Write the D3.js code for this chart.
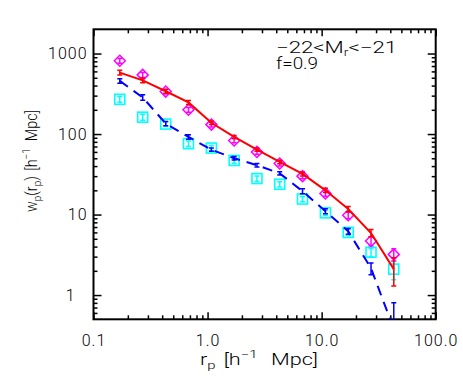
<!DOCTYPE html>
<html>
<head>
<meta charset="utf-8">
<script src="https://cdn.jsdelivr.net/npm/d3@7"></script>
<style>
body { margin: 0; background: #fff; }
text { font-family: Roboto, "Liberation Sans", Arial, sans-serif; font-weight: 300; fill: #000; }
</style>
</head>
<body>
<div id="chart"></div>
<script>
// projected separations (h^-1 Mpc)
var rp = [0.17, 0.27, 0.43, 0.68, 1.08, 1.71, 2.71, 4.29, 6.8, 10.8, 17.1, 27.1, 42.9];
// magenta diamonds
var wpDiamond = [815, 543, 337, 200, 131, 83, 60, 43, 30, 18.3, 9.8, 4.7, 3.2];
var wpDiamondErr = [55, 38, 22, 14, 9, 5, 4, 3, 2.2, 1.4, 0.9, 0.6, 0.55];
// cyan squares
var wpSquare = [270, 162, 133, 76, 67, 47, 28, 23.8, 15.6, 10.5, 6.0, 3.4, 2.1];
var wpSquareErr = [22, 14, 9, 6, 5, 3.5, 2.2, 1.8, 1.2, 0.8, 0.5, 0.4, 0.55];
// red solid line
var wpRed = [580, 465, 340, 247, 138, 92, 64, 45, 32, 20, 11.7, 5.9, 2.1];
var wpRedErr = [40, 30, 18, 14, 7, 4, 3, 2.2, 1.8, 1.2, 0.9, 0.6, 0.8];
// blue dashed line
var wpBlue = [457, 285, 135, 92, 64, 50, 41, 32.5, 19.5, 11, 6.2, 2.15, 0.38];
var wpBlueErr = [30, 22, 8, 6, 3, 2.5, 2, 1.5, 1.4, 0.8, 0.5, 0.36, 0.42];

var xTicks = [0.1, 1, 10, 100];
var yTicks = [1, 10, 100, 1000];

var Margin = {top: 29.3, right: 27.3, bottom: 60.7, left: 93.5},
    Width = 463 - Margin.left - Margin.right,
    Height = 380 - Margin.top - Margin.bottom;

var svg = d3.select("#chart").append("svg")
    .attr("width", 463).attr("height", 380);
var g = svg.append("g")
    .attr("transform", "translate(" + Margin.left + "," + Margin.top + ")");

var xScale = d3.scaleLog().domain([0.1, 100]).range([0, Width]);
var yScale = d3.scaleLog().domain([0.5, 2000]).range([Height, 0]);

// minor ticks: 2..9 of every decade inside the domain
function minors(scale) {
  var d = scale.domain(), out = [];
  for (var e = -2; e <= 4; e++) {
    for (var k = 2; k <= 9; k++) {
      var v = k * Math.pow(10, e);
      if (v > d[0] && v < d[1]) out.push(v);
    }
  }
  return out;
}

g.append("defs").append("clipPath").attr("id", "plotclip")
  .append("rect").attr("width", Width).attr("height", Height);

function axisStyle(sel) {
  sel.select(".domain").remove();
  sel.selectAll("line").attr("stroke", "#000").attr("stroke-width", 1.5);
  sel.selectAll("text").style("font-size", "16px").style("letter-spacing", "1px")
    .attr("font-family", null);
}

// bottom axis
g.append("g").attr("transform", "translate(0," + Height + ")")
  .call(d3.axisBottom(xScale).tickValues(xTicks).tickSizeInner(-7).tickSizeOuter(0)
    .tickPadding(15).tickFormat(d3.format(".1f")))
  .call(axisStyle);
g.append("g").attr("transform", "translate(0," + Height + ")")
  .call(d3.axisBottom(xScale).tickValues(minors(xScale)).tickSizeInner(-4).tickSizeOuter(0).tickFormat(""))
  .call(axisStyle);
// top axis
g.append("g")
  .call(d3.axisTop(xScale).tickValues(xTicks).tickSizeInner(-7).tickSizeOuter(0).tickFormat(""))
  .call(axisStyle);
g.append("g")
  .call(d3.axisTop(xScale).tickValues(minors(xScale)).tickSizeInner(-4).tickSizeOuter(0).tickFormat(""))
  .call(axisStyle);
// left axis
var yAxisG = g.append("g")
  .call(d3.axisLeft(yScale).tickValues(yTicks).tickSizeInner(-8).tickSizeOuter(0)
    .tickPadding(6).tickFormat(d3.format("d")))
  .call(axisStyle);
yAxisG.selectAll(".tick text").filter(function(d) { return d === 1; }).attr("x", -18);
g.append("g")
  .call(d3.axisLeft(yScale).tickValues(minors(yScale)).tickSizeInner(-4).tickSizeOuter(0).tickFormat(""))
  .call(axisStyle);
// right axis
g.append("g").attr("transform", "translate(" + Width + ",0)")
  .call(d3.axisRight(yScale).tickValues(yTicks).tickSizeInner(-8).tickSizeOuter(0).tickFormat(""))
  .call(axisStyle);
g.append("g").attr("transform", "translate(" + Width + ",0)")
  .call(d3.axisRight(yScale).tickValues(minors(yScale)).tickSizeInner(-4).tickSizeOuter(0).tickFormat(""))
  .call(axisStyle);

// frame
g.append("rect").attr("width", Width).attr("height", Height)
  .attr("fill", "none").attr("stroke", "#000").attr("stroke-width", 2);

var plot = g.append("g").attr("clip-path", "url(#plotclip)");

function rows(vals, errs) {
  return rp.map(function(r, i) { return {r: r, w: vals[i], e: errs[i]}; });
}

function errorBars(data, color, cap, width) {
  var eb = plot.append("g").attr("stroke", color).attr("stroke-width", width);
  data.forEach(function(d) {
    var x = xScale(d.r),
        y0 = yScale(Math.max(d.w - d.e, 0.3)),
        y1 = yScale(d.w + d.e);
    eb.append("line").attr("x1", x).attr("x2", x).attr("y1", y0).attr("y2", y1);
    eb.append("line").attr("x1", x - cap).attr("x2", x + cap).attr("y1", y0).attr("y2", y0);
    eb.append("line").attr("x1", x - cap).attr("x2", x + cap).attr("y1", y1).attr("y2", y1);
  });
}

var squares = rows(wpSquare, wpSquareErr);
var diamonds = rows(wpDiamond, wpDiamondErr);
var redRows = rows(wpRed, wpRedErr);
var blueRows = rows(wpBlue, wpBlueErr);

// cyan squares
errorBars(squares, "#00ffff", 2.5, 1.5);
plot.append("g").selectAll("rect").data(squares).enter().append("rect")
  .attr("x", function(d) { return xScale(d.r) - 5; })
  .attr("y", function(d) { return yScale(d.w) - 5; })
  .attr("width", 10).attr("height", 10)
  .attr("fill", "none").attr("stroke", "#00ffff").attr("stroke-width", 1.6);

// magenta diamonds
errorBars(diamonds, "#ff00ff", 2.5, 1.5);
plot.append("g").selectAll("path").data(diamonds).enter().append("path")
  .attr("d", function(d) {
    var x = xScale(d.r), y = yScale(d.w), s = 5.5;
    return "M" + (x - s) + "," + y + "L" + x + "," + (y - s) + "L" + (x + s) + "," + y + "L" + x + "," + (y + s) + "Z";
  })
  .attr("fill", "none").attr("stroke", "#ff00ff").attr("stroke-width", 1.5);

var line = d3.line()
  .x(function(d) { return xScale(d.r); })
  .y(function(d) { return yScale(d.w); });

// red solid
errorBars(redRows, "#ff0000", 2.5, 1.5);
plot.append("path").datum(redRows).attr("d", line)
  .attr("fill", "none").attr("stroke", "#ff0000").attr("stroke-width", 2);

// blue dashed
errorBars(blueRows, "#0000ff", 2.5, 1.5);
plot.append("path").datum(blueRows).attr("d", line)
  .attr("fill", "none").attr("stroke", "#0000ff").attr("stroke-width", 2)
  .attr("stroke-dasharray", "10,7");

// corner label
var lab = svg.append("text").attr("x", 276).attr("y", 52.5)
  .style("font-size", "16px")
  .attr("textLength", 121).attr("lengthAdjust", "spacingAndGlyphs");
lab.append("tspan").text("\u221222<M");
lab.append("tspan").attr("dy", 3).style("font-size", "10px").text("r");
lab.append("tspan").attr("dy", -3).text("<\u221221");
svg.append("text").attr("x", 276).attr("y", 68.5)
  .style("font-size", "16px")
  .attr("textLength", 42).attr("lengthAdjust", "spacingAndGlyphs")
  .text("f=0.9");

// x title
var xt = svg.append("text").attr("x", 200).attr("y", 365)
  .style("font-size", "16px")
  .attr("textLength", 118).attr("lengthAdjust", "spacingAndGlyphs");
xt.append("tspan").text("r");
xt.append("tspan").attr("dy", 4).style("font-size", "11px").text("p");
xt.append("tspan").attr("dy", -4).attr("dx", 6).text("[h");
xt.append("tspan").attr("dy", -7).style("font-size", "11px").text("\u22121");
xt.append("tspan").attr("dy", 7).attr("dx", 10).text("Mpc]");

// y title
var yt = svg.append("text")
  .attr("transform", "translate(37,212) rotate(-90)")
  .style("font-size", "16px")
  .attr("textLength", 102).attr("lengthAdjust", "spacingAndGlyphs");
yt.append("tspan").text("w");
yt.append("tspan").attr("dy", 4).style("font-size", "11px").text("p");
yt.append("tspan").attr("dy", -4).text("(r");
yt.append("tspan").attr("dy", 4).style("font-size", "11px").text("p");
yt.append("tspan").attr("dy", -4).text(")");
yt.append("tspan").attr("dx", 6).text("[h");
yt.append("tspan").attr("dy", -7).style("font-size", "11px").text("\u22121");
yt.append("tspan").attr("dy", 7).attr("dx", 8).text("Mpc]");
</script>
</body>
</html>
